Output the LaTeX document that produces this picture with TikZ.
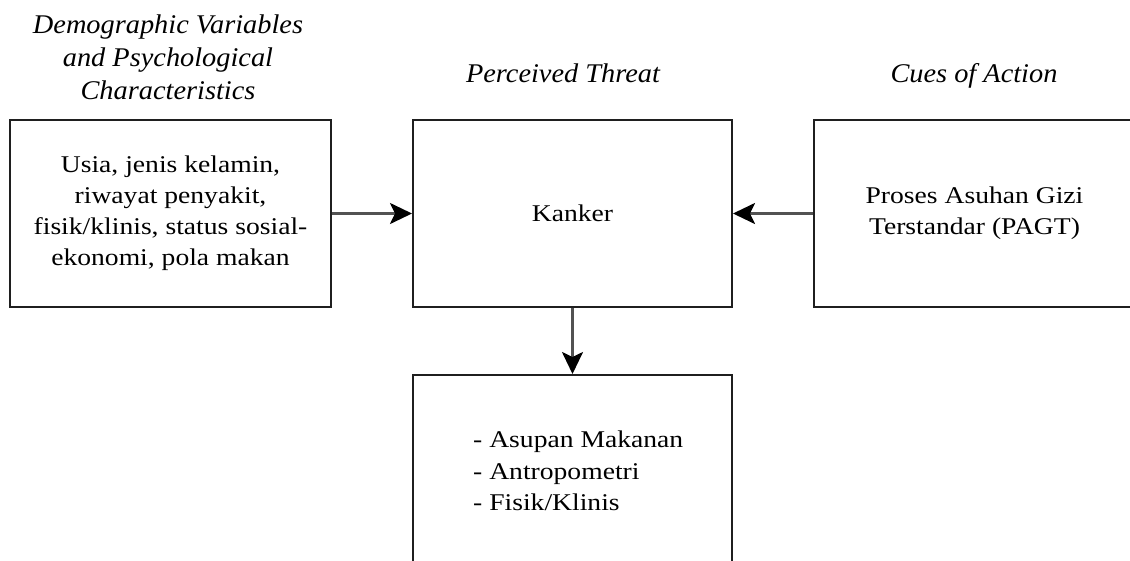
\documentclass[tikz,border=0pt]{standalone}
\usepackage{fontspec}
\setmainfont{Liberation Serif}
\newfontfamily\bodyfont[FakeStretch=1.15]{Liberation Serif}
\newfontfamily\headfont[FakeStretch=1.05]{Liberation Serif}
\usetikzlibrary{arrows.meta}
\begin{document}
\begin{tikzpicture}[x=1pt,y=-1pt,
  boxstyle/.style={draw=black!88, line width=2pt, inner sep=0pt, minimum height=187pt, align=center,
    font=\bodyfont\fontsize{24pt}{31pt}\selectfont},
  headstyle/.style={inner sep=0pt, align=center, font=\headfont\itshape\fontsize{27pt}{33pt}\selectfont},
  conn/.style={draw=black!68, line width=2.5pt, -{Stealth[length=22pt,width=21pt,inset=5pt,color=black]}}
]
\useasboundingbox (0,0) rectangle (1130,560);
\clip (0,0) rectangle (1130,560);

% headings
\node[headstyle] (h1) at (168,57) {Demographic Variables\\and Psychological\\Characteristics};
\node[headstyle, anchor=base] (h2) at (563,82) {Perceived Threat};
\node[headstyle, anchor=base] (h3) at (974,82) {Cues of Action};

% boxes
\node[boxstyle, minimum width=321pt] (left) at (170.5,213.5)
  {Usia, jenis kelamin,\\riwayat penyakit,\\fisik/klinis, status sosial-\\ekonomi, pola makan};
\node[boxstyle, minimum width=319pt] (center) at (572.5,213.5) {Kanker};
\node[boxstyle, minimum width=321pt] (right) at (974.5,213.5)
  {Proses Asuhan Gizi\\Terstandar (PAGT)};
\node[boxstyle, minimum width=319pt, minimum height=192pt] (bottom) at (572.5,471) {};
\node[anchor=west, inner sep=0pt, align=left, font=\bodyfont\fontsize{24pt}{31.5pt}\selectfont]
  (bottomtxt) at (473,471) {- Asupan Makanan\\- Antropometri\\- Fisik/Klinis};

% connectors
\draw[conn] (left.east) -- (center.west);
\draw[conn] (right.west) -- (center.east);
\draw[conn] (center.south) -- (bottom.north);
\end{tikzpicture}
\end{document}
